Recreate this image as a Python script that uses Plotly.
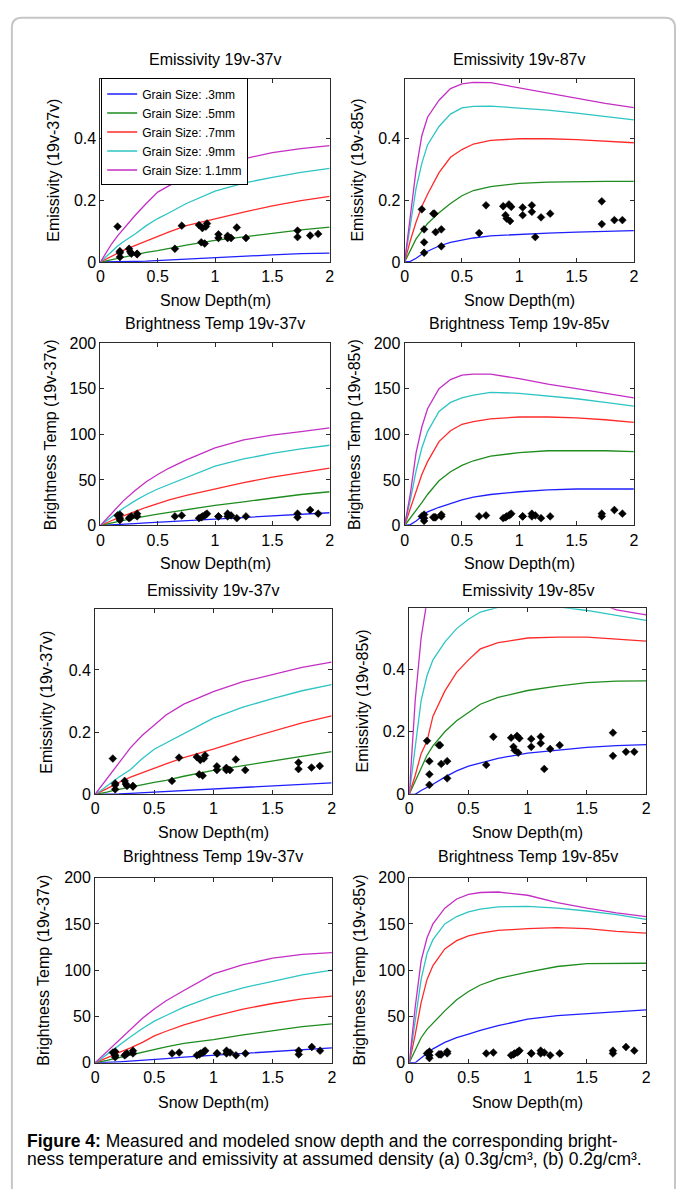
import plotly.graph_objects as go

W, H = 681, 1189

# ---------------- data ----------------
grain_names = ["Grain Size: .3mm", "Grain Size: .5mm", "Grain Size: .7mm",
               "Grain Size: .9mm", "Grain Size: 1.1mm"]
grain_colors = ["#1f1fff", "#1e8c1e", "#ff2a2a", "#2ec4c4", "#c42ec4"]

# measured snow depth (m) and observed quantities
depth = [0.15, 0.17, 0.17, 0.17, 0.25, 0.26, 0.27, 0.32, 0.32, 0.65, 0.71, 0.86, 0.88, 0.89,
         0.91, 0.92, 0.93, 1.03, 1.03, 1.11, 1.11, 1.14, 1.19, 1.27, 1.72, 1.72, 1.83, 1.90]
emis37 = [0.115, 0.035, 0.016, 0.030, 0.043, 0.033, 0.027, 0.027, 0.025, 0.043, 0.118, 0.120, 0.064, 0.110,
          0.060, 0.115, 0.125, 0.090, 0.078, 0.085, 0.078, 0.078, 0.112, 0.078, 0.102, 0.081, 0.086, 0.091]
emis85 = [0.171, 0.106, 0.064, 0.030, 0.157, 0.157, 0.097, 0.106, 0.051, 0.094, 0.184, 0.181, 0.152, 0.141,
          0.187, 0.133, 0.179, 0.177, 0.152, 0.184, 0.163, 0.081, 0.145, 0.157, 0.197, 0.123, 0.136, 0.136]
bt37 = [11, 12, 8, 6, 8, 9, 10, 13, 10, 10, 11, 8, 9, 10, 11, 12, 13, 10, 10, 13, 10, 11, 8, 10, 13, 9, 17, 13]
bt85 = [10, 12, 8, 5, 9, 9, 9, 12, 10, 10, 11, 8, 9, 10, 11, 12, 13, 10, 10, 13, 10, 11, 8, 10, 13, 10, 17, 13]

# modeled curves: depth grid and values per grain size (.3, .5, .7, .9, 1.1 mm)
model_depth = [0, 0.05, 0.1, 0.15, 0.2, 0.3, 0.4, 0.5, 0.6, 0.75, 1.0, 1.25, 1.5, 1.75, 2.0]

# density 0.3 g/cm3
emis37_d3 = [
    [0, 0, 0, 0.001, 0.001, 0.002, 0.003, 0.005, 0.007, 0.010, 0.015, 0.019, 0.023, 0.027, 0.029],
    [0, 0.004, 0.008, 0.013, 0.017, 0.024, 0.031, 0.037, 0.044, 0.055, 0.070, 0.082, 0.093, 0.104, 0.113],
    [0, 0.010, 0.020, 0.030, 0.038, 0.053, 0.068, 0.085, 0.098, 0.118, 0.141, 0.162, 0.182, 0.199, 0.213],
    [0, 0.018, 0.035, 0.052, 0.066, 0.090, 0.118, 0.141, 0.160, 0.190, 0.230, 0.256, 0.275, 0.291, 0.304],
    [0, 0.030, 0.060, 0.085, 0.107, 0.150, 0.190, 0.227, 0.248, 0.275, 0.306, 0.335, 0.355, 0.368, 0.378],
]
emis85_d3 = [
    [0, 0.002, 0.012, 0.025, 0.035, 0.052, 0.064, 0.072, 0.078, 0.085, 0.090, 0.094, 0.097, 0.100, 0.102],
    [0, 0.040, 0.075, 0.100, 0.125, 0.160, 0.190, 0.215, 0.232, 0.245, 0.255, 0.259, 0.261, 0.262, 0.262],
    [0, 0.070, 0.130, 0.180, 0.220, 0.290, 0.340, 0.365, 0.383, 0.395, 0.400, 0.400, 0.397, 0.392, 0.387],
    [0, 0.120, 0.240, 0.320, 0.380, 0.440, 0.480, 0.500, 0.505, 0.506, 0.500, 0.493, 0.483, 0.472, 0.461],
    [0, 0.150, 0.300, 0.410, 0.470, 0.525, 0.563, 0.578, 0.583, 0.582, 0.565, 0.548, 0.530, 0.515, 0.501],
]
bt37_d3 = [
    [0, 0.2, 0.5, 0.9, 1.3, 2, 2.8, 3.5, 4.2, 5.3, 7, 9, 11, 12.5, 14],
    [0, 1.5, 3, 4.5, 5.5, 8, 10.5, 12.5, 14.5, 17.5, 22, 26, 30, 34, 37],
    [0, 3, 5.5, 8, 10.5, 15, 20, 24, 28, 33, 40, 47, 53, 58, 63],
    [0, 5, 10, 15, 19, 27, 34, 40, 45, 53, 65, 73, 79, 84, 88],
    [0, 7, 14, 21, 27, 38, 48, 56, 63, 72, 85, 94, 99, 103, 107],
]
bt85_d3 = [
    [0, 1, 5, 10, 15, 20, 24, 28, 31, 34, 37, 39, 40, 40, 40],
    [0, 8, 17, 25, 34, 49, 59, 66, 71, 76, 80, 82, 82, 82, 81],
    [0, 18, 38, 56, 70, 92, 104, 111, 114, 117, 119, 119, 118, 116, 113],
    [0, 28, 60, 85, 103, 125, 135, 140, 143, 146, 145, 142, 139, 135, 131],
    [0, 35, 80, 108, 128, 150, 160, 165, 166, 166, 161, 155, 150, 145, 140],
]

# density 0.2 g/cm3
emis37_d2 = [
    [0, 0, 0, 0.001, 0.001, 0.003, 0.005, 0.007, 0.009, 0.012, 0.017, 0.022, 0.027, 0.032, 0.037],
    [0, 0.003, 0.007, 0.012, 0.016, 0.024, 0.030, 0.038, 0.045, 0.058, 0.077, 0.092, 0.107, 0.123, 0.137],
    [0, 0.008, 0.018, 0.028, 0.038, 0.055, 0.070, 0.085, 0.098, 0.118, 0.145, 0.175, 0.203, 0.230, 0.252],
    [0, 0.012, 0.027, 0.042, 0.055, 0.080, 0.115, 0.145, 0.165, 0.195, 0.245, 0.280, 0.308, 0.333, 0.353],
    [0, 0.025, 0.050, 0.077, 0.100, 0.150, 0.190, 0.224, 0.255, 0.290, 0.330, 0.362, 0.385, 0.408, 0.425],
]
emis85_d2 = [
    [0, 0.0, 0.012, 0.022, 0.032, 0.055, 0.075, 0.090, 0.100, 0.115, 0.132, 0.142, 0.150, 0.156, 0.159],
    [0, 0.040, 0.085, 0.125, 0.155, 0.200, 0.235, 0.262, 0.288, 0.310, 0.332, 0.346, 0.357, 0.362, 0.363],
    [0, 0.060, 0.130, 0.170, 0.250, 0.330, 0.390, 0.430, 0.465, 0.485, 0.500, 0.503, 0.503, 0.497, 0.490],
    [0, 0.150, 0.300, 0.380, 0.430, 0.487, 0.530, 0.560, 0.583, 0.598, 0.605, 0.600, 0.588, 0.572, 0.556],
    [0, 0.300, 0.500, 0.620, 0.680, 0.720, 0.740, 0.750, 0.750, 0.740, 0.710, 0.670, 0.625, 0.590, 0.574],
]
bt37_d2 = [
    [0, 0, 0.3, 0.7, 1, 1.7, 2.6, 3.5, 4.5, 6, 8, 10, 12.4, 14.5, 16],
    [0, 1, 2.5, 4, 5.5, 8, 11, 14, 17, 21, 25, 30, 34.5, 39, 42],
    [0, 2.5, 5, 8, 11, 16, 22, 29, 34, 41, 50, 58, 64, 69, 72],
    [0, 4, 9, 14, 19, 28, 37, 45, 51, 60, 72, 81, 88, 95, 100],
    [0, 6, 12, 18, 24, 36, 48, 58, 67, 78, 96, 106, 113, 117, 119],
]
bt85_d2 = [
    [0, 0, 5, 10, 15, 22, 27, 31, 35, 40, 47, 51, 53, 55, 57],
    [0, 13, 27, 36, 43, 56, 68, 77, 84, 91, 98, 104, 107, 107.5, 107.5],
    [0, 30, 65, 90, 105, 123, 132, 137, 140, 143, 145, 146, 145, 142, 140],
    [0, 45, 90, 118, 133, 150, 158, 163, 166, 168.5, 169, 167, 164, 160, 155],
    [0, 60, 110, 135, 150, 167, 177, 182, 184, 184.5, 181, 173, 167, 162, 158],
]

x_ticks = [0, 0.5, 1, 1.5, 2]
x_tick_text = ["0", "0.5", "1", "1.5", "2"]
emis_ticks = [0, 0.2, 0.4]
bt_ticks = [0, 50, 100, 150, 200]

# ---------------- layout helpers ----------------
def fx(p):
    return p / W

def fy(p):
    return 1 - p / H

FONT = "Liberation Sans, Arial, sans-serif"

panels = [
    dict(box=(97.7, 330, 71.7, 257.7), title="Emissivity 19v-37v", ytitle="Emissivity (19v-37v)",
         ytx=50, tty=52, xty=297, curves=emis37_d3, obs=emis37, yr=[0, 0.595], yt=emis_ticks, legend=True),
    dict(box=(406, 638.3, 71.7, 257.7), title="Emissivity 19v-87v", ytitle="Emissivity (19v-85v)",
         ytx=358, tty=52, xty=297, curves=emis85_d3, obs=emis85, yr=[0, 0.595], yt=emis_ticks),
    dict(box=(97.7, 330, 340, 525), title="Brightness Temp 19v-37v", ytitle="Brightness Temp (19v-37v)",
         ytx=46.5, tty=320, xty=564, curves=bt37_d3, obs=bt37, yr=[0, 200], yt=bt_ticks),
    dict(box=(406, 638.3, 340, 525), title="Brightness Temp 19v-85v", ytitle="Brightness Temp (19v-85v)",
         ytx=355.5, tty=320, xty=564, curves=bt85_d3, obs=bt85, yr=[0, 200], yt=bt_ticks),
    dict(box=(92.3, 332, 610, 797.7), title="Emissivity 19v-37v", ytitle="Emissivity (19v-37v)",
         ytx=43.5, tty=590.5, xty=836.5, curves=emis37_d2, obs=emis37, yr=[0, 0.595], yt=emis_ticks),
    dict(box=(410.7, 650.7, 609, 797.7), title="Emissivity 19v-85v", ytitle="Emissivity (19v-85v)",
         ytx=363, tty=590.5, xty=836.5, curves=emis85_d2, obs=emis85, yr=[0, 0.595], yt=emis_ticks),
    dict(box=(92.3, 332.3, 882.3, 1070), title="Brightness Temp 19v-37v", ytitle="Brightness Temp (19v-37v)",
         ytx=40, tty=860.5, xty=1110, curves=bt37_d2, obs=bt37, yr=[0, 200], yt=bt_ticks),
    dict(box=(410.7, 650.7, 882.3, 1070), title="Brightness Temp 19v-85v", ytitle="Brightness Temp (19v-85v)",
         ytx=360, tty=860.5, xty=1110, curves=bt85_d2, obs=bt85, yr=[0, 200], yt=bt_ticks),
]

fig = go.Figure()
annotations = []
layout_axes = {}

for i, p in enumerate(panels, start=1):
    xa = "x" if i == 1 else f"x{i}"
    ya = "y" if i == 1 else f"y{i}"
    for k in range(5):
        fig.add_trace(go.Scatter(
            x=model_depth, y=p["curves"][k], mode="lines", xaxis=xa, yaxis=ya,
            line=dict(color=grain_colors[k], width=1.3),
            name=grain_names[k], showlegend=bool(p.get("legend")), legendrank=k + 1,
            hoverinfo="skip"))
    fig.add_trace(go.Scatter(
        x=depth, y=p["obs"], mode="markers", xaxis=xa, yaxis=ya, showlegend=False,
        marker=dict(symbol="diamond", size=6, color="black", line=dict(width=0.5, color="black")),
        name="Measured"))

    l, r, t, b = p["box"]
    xkey = "xaxis" if i == 1 else f"xaxis{i}"
    ykey = "yaxis" if i == 1 else f"yaxis{i}"
    common = dict(showline=True, linecolor="#2b2b2b", linewidth=1, mirror="allticks",
                  ticks="inside", ticklen=4, tickcolor="#2b2b2b", showgrid=False, zeroline=False,
                  tickfont=dict(family=FONT, size=16, color="black"), fixedrange=True)
    layout_axes[xkey] = dict(domain=[fx(l), fx(r)], range=[0, 2], anchor=ya,
                             tickvals=x_ticks, ticktext=x_tick_text, **common)
    layout_axes[ykey] = dict(domain=[fy(b), fy(t)], range=p["yr"], anchor=xa,
                             tickvals=p["yt"], **common)

    cx = (l + r) / 2
    annotations.append(dict(text=p["title"], x=fx(cx), y=fy(p["tty"]), xref="paper", yref="paper",
                            xanchor="center", yanchor="middle", showarrow=False,
                            font=dict(family=FONT, size=16, color="black")))
    annotations.append(dict(text="Snow Depth(m)", x=fx(cx), y=fy(p["xty"]), xref="paper", yref="paper",
                            xanchor="center", yanchor="middle", showarrow=False,
                            font=dict(family=FONT, size=16, color="black")))
    annotations.append(dict(text=p["ytitle"], x=fx(p["ytx"]), y=fy((t + b) / 2), xref="paper", yref="paper",
                            xanchor="center", yanchor="middle", showarrow=False, textangle=-90,
                            font=dict(family=FONT, size=16, color="black")))

# caption
annotations.append(dict(
    text="<b>Figure 4:</b> Measured and modeled snow depth and the corresponding bright-",
    x=fx(21.5), y=fy(1149), xref="paper", yref="paper", xanchor="left", yanchor="middle",
    showarrow=False, font=dict(family=FONT, size=17.5, color="black")))
annotations.append(dict(
    text="ness temperature and emissivity at assumed density (a) 0.3g/cm³, (b) 0.2g/cm³.",
    x=fx(21.5), y=fy(1167.5), xref="paper", yref="paper", xanchor="left", yanchor="middle",
    showarrow=False, font=dict(family=FONT, size=17.5, color="black")))

# outer rounded frame
frame_path = (f"M {fx(8)},{fy(1300)} L {fx(8)},{fy(20)} Q {fx(8)},{fy(10)} {fx(18)},{fy(10)} "
              f"L {fx(670)},{fy(10)} Q {fx(680)},{fy(10)} {fx(680)},{fy(20)} L {fx(680)},{fy(1300)}")

fig.update_layout(
    width=W, height=H, margin=dict(l=0, r=0, t=0, b=0),
    paper_bgcolor="white", plot_bgcolor="white",
    font=dict(family=FONT, color="black"),
    annotations=annotations,
    shapes=[dict(type="path", path=frame_path, xref="paper", yref="paper",
                 line=dict(color="#c6c6c6", width=2), layer="below")],
    legend=dict(x=fx(98.5), y=fy(71.5), xanchor="left", yanchor="top",
                bgcolor="white", bordercolor="black", borderwidth=1,
                font=dict(family=FONT, size=12, color="black"),
                tracegroupgap=0, itemwidth=30),
    **layout_axes,
)

fig.write_html("out.html")
